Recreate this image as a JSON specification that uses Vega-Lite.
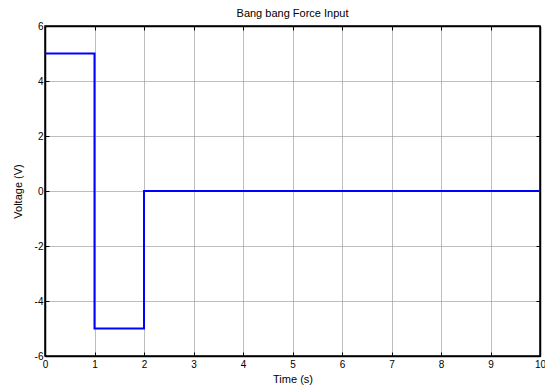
{
  "$schema": "https://vega.github.io/schema/vega-lite/v6.json",
  "width": 495,
  "height": 330,
  "autosize": {"type": "none"},
  "padding": {"left": 45, "top": 26, "right": 5, "bottom": 30},
  "background": "white",
  "title": {"text": "Bang bang Force Input", "fontSize": 11, "fontWeight": "normal", "font": "Liberation Sans", "color": "black", "offset": 2},
  "config": {
    "view": {"stroke": "black", "strokeWidth": 1.5},
    "axis": {"labelFont": "Liberation Sans", "titleFont": "Liberation Sans", "labelFontSize": 10, "titleFontSize": 11, "titleFontWeight": "normal", "labelColor": "black", "titleColor": "black", "domainColor": "black", "tickColor": "black", "gridColor": "#999999", "gridOpacity": 0.8, "gridWidth": 0.8}
  },
  "data": {"values": [
    {"t": 0, "v": 5, "o": 0},
    {"t": 1, "v": 5, "o": 1},
    {"t": 1, "v": -5, "o": 2},
    {"t": 2, "v": -5, "o": 3},
    {"t": 2, "v": 0, "o": 4},
    {"t": 10, "v": 0, "o": 5}
  ]},
  "layer": [
    {
      "mark": {"type": "line", "color": "#0000ff", "strokeWidth": 2, "clip": true},
      "encoding": {
        "x": {"field": "t", "type": "quantitative", "scale": {"domain": [0, 10], "nice": false},
          "axis": {"title": "Time (s)", "values": [0,1,2,3,4,5,6,7,8,9,10], "tickSize": -4, "labelPadding": 7, "titlePadding": 4, "domainWidth": 1.5, "labelFlush": false}},
        "y": {"field": "v", "type": "quantitative", "scale": {"domain": [-6, 6], "nice": false},
          "axis": {"title": "Voltage (V)", "values": [-6,-4,-2,0,2,4,6], "tickSize": -4, "labelPadding": 6, "titlePadding": 11, "domainWidth": 1.5, "labelFlush": false, "labelExpr": "datum.value + ''"}},
        "order": {"field": "o", "type": "quantitative"}
      }
    },
    {
      "mark": {"type": "line", "opacity": 0},
      "encoding": {
        "x": {"field": "t", "type": "quantitative", "scale": {"domain": [0, 10], "nice": false},
          "axis": {"orient": "top", "title": null, "labels": false, "grid": false, "values": [0,1,2,3,4,5,6,7,8,9,10], "tickSize": -4, "domainWidth": 1.5}},
        "y": {"field": "v", "type": "quantitative", "scale": {"domain": [-6, 6], "nice": false},
          "axis": {"orient": "right", "title": null, "labels": false, "grid": false, "values": [-6,-4,-2,0,2,4,6], "tickSize": -4, "domainWidth": 1.5}},
        "order": {"field": "o", "type": "quantitative"}
      }
    }
  ],
  "resolve": {"axis": {"x": "independent", "y": "independent"}}
}
